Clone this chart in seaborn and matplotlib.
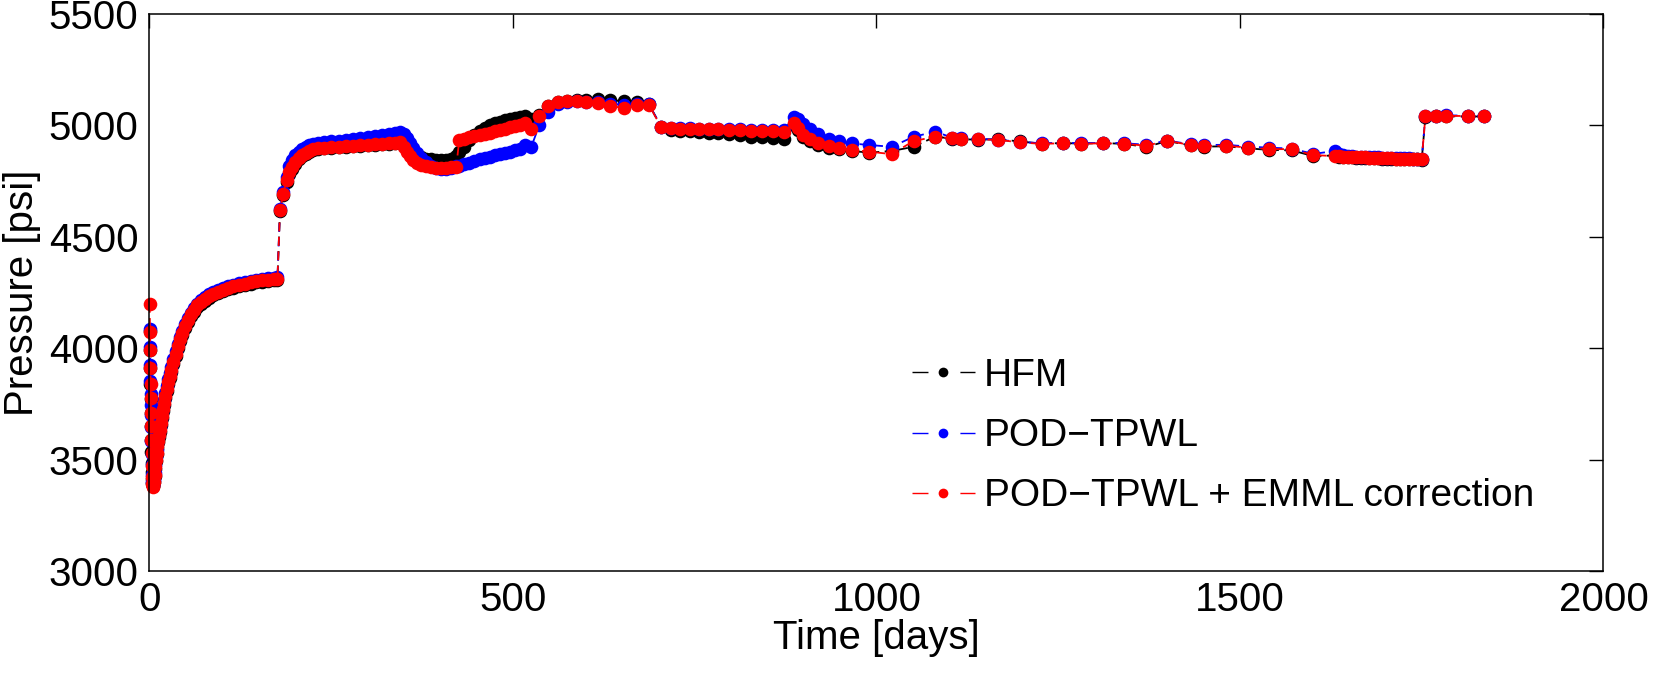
import numpy as np
import pandas as pd
import matplotlib
matplotlib.use("Agg")
import matplotlib.pyplot as plt
from matplotlib.lines import Line2D
import seaborn as sns

# ---------------- data ----------------
time_days = [
    # early drawdown column
    0.3, 0.6, 0.9, 1.2, 1.5, 1.8, 2.1, 2.4, 2.7, 3.0, 3.3, 3.6, 4.0, 4.5,
    # build-up
    5, 6, 7, 8, 9, 10, 11, 12, 13, 14, 15.5, 17, 18.5, 20, 22, 24, 26, 28, 30,
    33, 36, 39, 42, 45, 49, 53, 57, 61, 66, 71, 76, 82, 88, 94, 101, 108, 115,
    123, 131, 139, 147, 155, 163, 171, 176,
    # jump and plateau
    179.5, 184, 188.5, 192, 196, 200, 205, 210, 215, 220, 225, 232, 240, 250,
    260, 270, 280, 290, 300, 310, 320, 330, 338, 344,
    # dip and branches
    350, 354, 358, 363, 368, 374, 380, 387, 394, 401, 408, 415, 422, 426, 433,
    440, 447, 454, 461, 468, 475, 482, 489, 496, 503, 510, 516, 525,
    # high plateau
    536, 548, 562, 574, 588, 601, 617, 633, 653, 670, 687,
    # flat segment
    704, 718, 730, 743, 756, 769, 782, 797, 812, 827, 842, 857, 873,
    # bump and decline
    886, 892, 899, 908, 920, 934, 949, 966, 990, 1021,
    # long flat
    1051, 1081, 1104, 1116, 1139, 1167, 1197, 1227, 1257, 1281, 1311, 1341,
    1371, 1400, 1432, 1451, 1481, 1511, 1540, 1571, 1601,
    # dense cluster
    1630, 1636, 1642, 1648, 1654, 1660, 1666, 1672, 1678, 1684, 1690, 1696,
    1702, 1708, 1714, 1720, 1726, 1732, 1738, 1744, 1750,
    # final jump
    1755, 1769, 1783, 1813, 1836,
]

p_hfm = [
    4075, 3990, 3910, 3840, 3770, 3710, 3650, 3590, 3535, 3485, 3445, 3415, 3393, 3383,
    3380, 3398, 3426, 3460, 3494, 3524, 3553, 3578, 3602, 3625, 3657, 3687, 3716, 3743,
    3776, 3809, 3839, 3867, 3893, 3931, 3966, 3999, 4031, 4059, 4091, 4119, 4143, 4164,
    4184, 4200, 4214, 4227, 4238, 4247, 4256, 4264, 4271, 4278, 4284, 4290, 4295, 4299,
    4302, 4304, 4305,
    4618, 4688, 4745, 4780, 4806, 4827, 4848, 4862, 4873, 4881, 4888, 4893, 4897, 4900,
    4903, 4905, 4907, 4909, 4911, 4913, 4915, 4918, 4920, 4922,
    4920, 4900, 4885, 4872, 4862, 4856, 4851, 4848, 4846, 4845, 4846, 4850, 4862, 4880,
    4905, 4935, 4958, 4975, 4990, 5000, 5010, 5017, 5023, 5028, 5032, 5036, 5040, 5030,
    5045, 5088, 5105, 5110, 5112, 5115, 5117, 5112, 5110, 5105, 5096,
    4991, 4979, 4977, 4974, 4971, 4968, 4965, 4960, 4955, 4950, 4946, 4942, 4938,
    5000, 4980, 4950, 4930, 4912, 4900, 4892, 4885, 4878, 4885,
    4904, 4950, 4940, 4938, 4936, 4938, 4928, 4918, 4921, 4918, 4921, 4917, 4903, 4930,
    4910, 4905, 4906, 4897, 4890, 4888, 4862,
    4865, 4860, 4858, 4857, 4856, 4855, 4854, 4854, 4853, 4852, 4852, 4851, 4850, 4850,
    4849, 4849, 4848, 4848, 4847, 4847, 4846,
    5038, 5040, 5041, 5040, 5040,
]

p_pod = [
    4086, 4005, 3925, 3855, 3795, 3745, 3700, 3645, 3585, 3525, 3475, 3432, 3400, 3386,
    3385, 3410, 3442, 3478, 3513, 3545, 3575, 3600, 3625, 3648, 3680, 3712, 3742, 3768,
    3800, 3832, 3862, 3889, 3914, 3952, 3986, 4018, 4049, 4077, 4108, 4136, 4160, 4180,
    4200, 4216, 4229, 4242, 4253, 4262, 4270, 4278, 4285, 4292, 4298, 4303, 4308, 4312,
    4315, 4317, 4318,
    4625, 4700, 4770, 4820, 4845, 4865, 4882, 4895, 4905, 4913, 4918, 4923, 4927, 4930,
    4932, 4935, 4938, 4942, 4947, 4952, 4957, 4962, 4966, 4970,
    4960, 4942, 4920, 4898, 4878, 4855, 4837, 4820, 4808, 4804, 4803, 4808, 4816, 4820,
    4826, 4833, 4840, 4848, 4855, 4860, 4866, 4870, 4876, 4882, 4888, 4895, 4912, 4902,
    5000, 5060, 5098, 5106, 5108, 5107, 5104, 5098, 5092, 5094, 5094,
    4995, 4990, 4988, 4987, 4986, 4985, 4985, 4983, 4982, 4981, 4980, 4980, 4978,
    5039, 5030, 5005, 4985, 4960, 4940, 4930, 4919, 4912, 4904,
    4949, 4972, 4945, 4942, 4940, 4936, 4926, 4920, 4922, 4920, 4922, 4920, 4913, 4932,
    4915, 4912, 4913, 4905, 4900, 4896, 4872,
    4885, 4872, 4866, 4863, 4861, 4860, 4859, 4858, 4857, 4856, 4856, 4855, 4854, 4854,
    4853, 4853, 4852, 4852, 4851, 4851, 4850,
    5043, 5044, 5045, 5044, 5044,
]

p_emml = [
    4200, 4074, 3990, 3910, 3840, 3775, 3710, 3650, 3590, 3530, 3470, 3420, 3390, 3378,
    3380, 3400, 3430, 3465, 3500, 3530, 3560, 3585, 3610, 3632, 3665, 3695, 3725, 3752,
    3785, 3818, 3848, 3876, 3902, 3940, 3975, 4008, 4040, 4068, 4100, 4128, 4152, 4172,
    4192, 4208, 4221, 4234, 4245, 4254, 4262, 4270, 4277, 4284, 4290, 4295, 4300, 4304,
    4307, 4309, 4310,
    4621, 4692, 4755, 4790, 4815, 4835, 4855, 4868, 4878, 4886, 4892, 4897, 4900, 4903,
    4905, 4907, 4909, 4911, 4913, 4915, 4917, 4920, 4922, 4924,
    4905, 4880, 4862, 4845, 4833, 4822, 4816, 4812, 4810, 4810, 4810, 4812, 4815, 4934,
    4940, 4946, 4951, 4957, 4962, 4968, 4974, 4980, 4986, 4992, 4998, 5004, 5012, 4982,
    5040, 5085, 5104, 5108, 5109, 5107, 5102, 5085, 5080, 5090, 5092,
    4991, 4987, 4985, 4984, 4982, 4982, 4982, 4979, 4978, 4976, 4976, 4976, 4971,
    5009, 4990, 4955, 4937, 4919, 4906, 4897, 4890, 4882, 4871,
    4930, 4949, 4942, 4940, 4938, 4935, 4924, 4917, 4920, 4917, 4920, 4917, 4909, 4931,
    4912, 4908, 4909, 4900, 4894, 4893, 4867,
    4862, 4861, 4860, 4859, 4858, 4857, 4856, 4856, 4855, 4854, 4854, 4853, 4852, 4852,
    4851, 4851, 4850, 4850, 4849, 4849, 4848,
    5040, 5042, 5043, 5042, 5042,
]

series_labels = ["HFM", "POD\u2212TPWL", "POD\u2212TPWL + EMML correction"]
series_colors = ["#000000", "#0000ff", "#ff0000"]
x_ticks = [0, 500, 1000, 1500, 2000]
y_ticks = [3000, 3500, 4000, 4500, 5000, 5500]

assert len(time_days) == len(p_hfm) == len(p_pod) == len(p_emml)

# ---------------- plotting ----------------
sns.set_theme(style="white")
plt.rcParams["font.family"] = ["Liberation Sans", "DejaVu Sans"]
plt.rcParams["axes.linewidth"] = 1.1
plt.rcParams["text.color"] = "black"
plt.rcParams["axes.labelcolor"] = "black"
plt.rcParams["xtick.color"] = "black"
plt.rcParams["ytick.color"] = "black"
plt.rcParams["axes.edgecolor"] = "black"

fig = plt.figure(figsize=(16.74, 6.84), dpi=100)
ax = fig.add_axes([149.5 / 1674, 113 / 684, 1454 / 1674, 557 / 684])

for vals, col in zip([p_hfm, p_pod, p_emml], series_colors):
    df = pd.DataFrame({"t": time_days, "p": vals})
    sns.lineplot(data=df, x="t", y="p", ax=ax, color=col, estimator=None,
                 sort=False, marker="o", markersize=9.8, markeredgewidth=0,
                 linewidth=1.3, linestyle=(0, (5, 3)), clip_on=False)

ax.set_xlim(0, 2000)
ax.set_ylim(3000, 5500)
ax.set_xticks(x_ticks)
ax.set_yticks(y_ticks)
ax.set_xticklabels([str(v) for v in x_ticks])
ax.set_yticklabels([str(v) for v in y_ticks])
ax.tick_params(axis="both", which="major", direction="in", length=10, width=1.0,
               labelsize=29, top=True, right=True, colors="black")
ax.tick_params(axis="x", pad=7)
ax.tick_params(axis="y", pad=8)
for s in ax.spines.values():
    s.set_visible(True)
    s.set_color("black")
ax.set_xlabel("Time [days]", fontsize=29, labelpad=0)
ax.set_ylabel("Pressure [psi]", fontsize=29, labelpad=5)

handles = [Line2D([0], [0], color=c, linestyle=(0, (11.5, 23)), linewidth=1.0,
                  marker="o", markersize=7, markeredgewidth=0)
           for c in series_colors]
leg = ax.legend(handles, series_labels, loc="upper left",
                bbox_to_anchor=(912 / 1674, 1 - 358 / 684),
                bbox_transform=fig.transFigure, frameon=False,
                fontsize=28, handlelength=1.62, handletextpad=0.22,
                labelspacing=0.62, borderpad=0, borderaxespad=0)

fig.savefig("out.png", dpi=100, facecolor="white")
